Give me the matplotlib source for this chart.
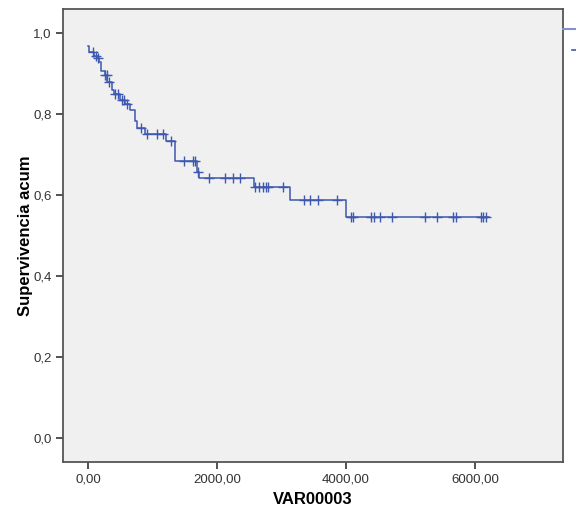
import numpy as np
import matplotlib.pyplot as plt
from matplotlib.lines import Line2D

plt.rcParams['font.family'] = ['Liberation Sans', 'DejaVu Sans']

# Kaplan-Meier step levels
step_times = [0, 10, 100, 150, 170, 200, 260, 300, 370, 395, 500, 580, 650,
              730, 760, 880, 1210, 1350, 1690, 1720, 2570, 3135, 4005]
step_surv = [0.968, 0.953, 0.944, 0.937, 0.928, 0.905, 0.895, 0.880, 0.860,
             0.850, 0.835, 0.825, 0.810, 0.782, 0.765, 0.750, 0.733, 0.685,
             0.657, 0.643, 0.619, 0.588, 0.546]
end_time = 6210

# censored cases
censor_times = [80, 130, 155, 270, 290, 320, 420, 460, 520, 560, 600, 820,
                915, 1065, 1165, 1280, 1494, 1633, 1660, 1700, 1876, 2124,
                2253, 2357, 2589, 2656, 2718, 2760, 2796, 3028, 3354, 3442,
                3561, 3860, 4073, 4104, 4390, 4428, 4530, 4715, 5225, 5406,
                5660, 5700, 6085, 6129, 6171]

y_ticks = [0.0, 0.2, 0.4, 0.6, 0.8, 1.0]
y_labels = ['0,0', '0,2', '0,4', '0,6', '0,8', '1,0']
x_ticks = [0, 2000, 4000, 6000]
x_labels = ['0,00', '2000,00', '4000,00', '6000,00']

blue = '#3d58ae'

fig = plt.figure(figsize=(5.76, 5.11), dpi=100)
ax = fig.add_axes([63/576, 1 - 462/511, 500/576, 453/511])
ax.set_facecolor('#f0f0f0')

xs = list(step_times) + [end_time]
ys = list(step_surv) + [step_surv[-1]]
ax.step(xs, ys, where='post', color=blue, lw=1.1)

# place censor marks on the curve
idx = np.searchsorted(step_times, censor_times, side='right') - 1
cy = np.array(step_surv)[idx]
ax.plot(censor_times, cy, ls='none', marker='+', ms=7, mew=1.0, color=blue)

ax.set_xlim(-388, 7364)
ax.set_ylim(-0.059, 1.059)
ax.set_xticks(x_ticks)
ax.set_xticklabels(x_labels, fontsize=9.5, color='#333333')
ax.set_yticks(y_ticks)
ax.set_yticklabels(y_labels, fontsize=9.5, color='#333333')
ax.tick_params(direction='out', length=5, width=1.2, color='#333333', pad=3)
for s in ax.spines.values():
    s.set_color('#555555')
    s.set_linewidth(1.3)

ax.set_xlabel('VAR00003', fontsize=12, fontweight='bold')
ax.set_ylabel('Supervivencia acum', fontsize=12, fontweight='bold')
ax.xaxis.set_label_coords(0.5, -0.066)
ax.yaxis.set_label_coords(-0.06, 0.5)

# legend pieces cut off at the right edge
fig.add_artist(Line2D([563/576, 1], [1 - 29/511, 1 - 29/511], color='#7f93cf', lw=1.5))
fig.add_artist(Line2D([572/576, 1], [1 - 50/511, 1 - 50/511], color=blue, lw=1.2))

fig.savefig('out.png', dpi=100)
